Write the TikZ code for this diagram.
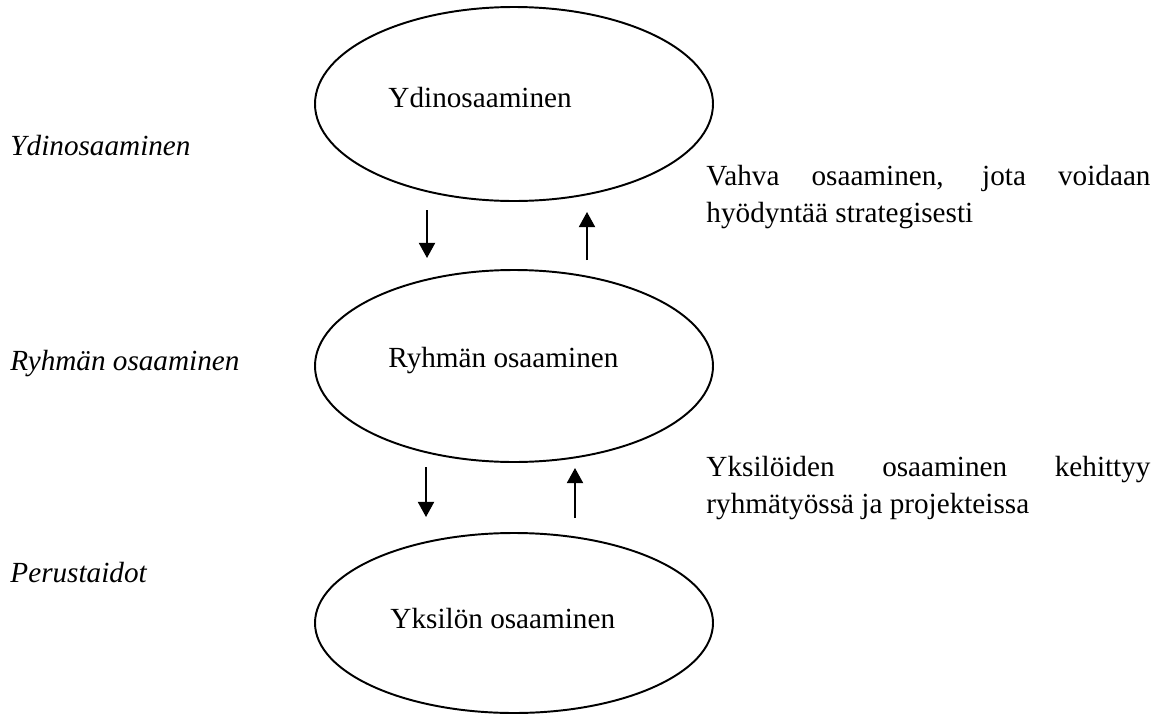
\documentclass[tikz,border=0pt]{standalone}
\usepackage{fontspec}
\setmainfont{Liberation Serif}
\usetikzlibrary{arrows.meta}
\newcommand\pxUnit{0.411pt}
\newcommand\ringX{514}
\newcommand\ringRx{199}
\newcommand\innerX{388}
\newcommand\sideX{10}
\newcommand\noteX{706}
\newcommand\noteW{182.5pt}
\tikzset{
    ringLine/.style={draw, line width=0.8pt},
    flowArrow/.style={line width=0.75pt, -{Triangle[width=6.6pt, length=6.2pt]}},
    innerText/.style={anchor=base west, inner sep=0pt, font=\fontsize{12}{15.6}\selectfont},
    sideText/.style={innerText, font=\fontsize{12}{15.6}\selectfont\itshape},
    noteText/.style={innerText, text width=\noteW, align=justify}
}
\begin{document}
\begin{tikzpicture}[x=\pxUnit, y=-\pxUnit]
    \useasboundingbox (0,0) rectangle (1153,724);

    % the three levels
    \draw[ringLine] (\ringX,104) ellipse [x radius=\ringRx, y radius=97];
    \draw[ringLine] (\ringX,366) ellipse [x radius=\ringRx, y radius=96];
    \draw[ringLine] (\ringX,623) ellipse [x radius=\ringRx, y radius=90];

    \node[innerText] (ringTop) at (\innerX,107) {Ydinosaaminen};
    \node[innerText] (ringMid) at (\innerX,367) {Ryhmän osaaminen};
    \node[innerText] (ringLow) at (\innerX+2,628) {Yksilön osaaminen};

    \node[sideText] (sideTop) at (\sideX,155) {Ydinosaaminen};
    \node[sideText] (sideMid) at (\sideX,370) {Ryhmän osaaminen};
    \node[sideText] (sideLow) at (\sideX,582) {Perustaidot};

    \node[noteText] (noteUpper) at (\noteX,185) {Vahva osaaminen, jota voidaan\linebreak hyödyntää strategisesti};
    \node[noteText] (noteLower) at (\noteX,476) {Yksilöiden osaaminen kehittyy\linebreak ryhmätyössä ja projekteissa};

    % arrows between the levels
    \coordinate (downA) at (427,210);
    \coordinate (downAend) at (427,258);
    \coordinate (upA) at (587,260);
    \coordinate (upAend) at (587,212);
    \coordinate (downB) at (426,467);
    \coordinate (downBend) at (426,517);
    \coordinate (upB) at (575,518);
    \coordinate (upBend) at (575,468);

    \draw[flowArrow] (downA) -- (downAend);
    \draw[flowArrow] (upA) -- (upAend);
    \draw[flowArrow] (downB) -- (downBend);
    \draw[flowArrow] (upB) -- (upBend);
\end{tikzpicture}
\end{document}
